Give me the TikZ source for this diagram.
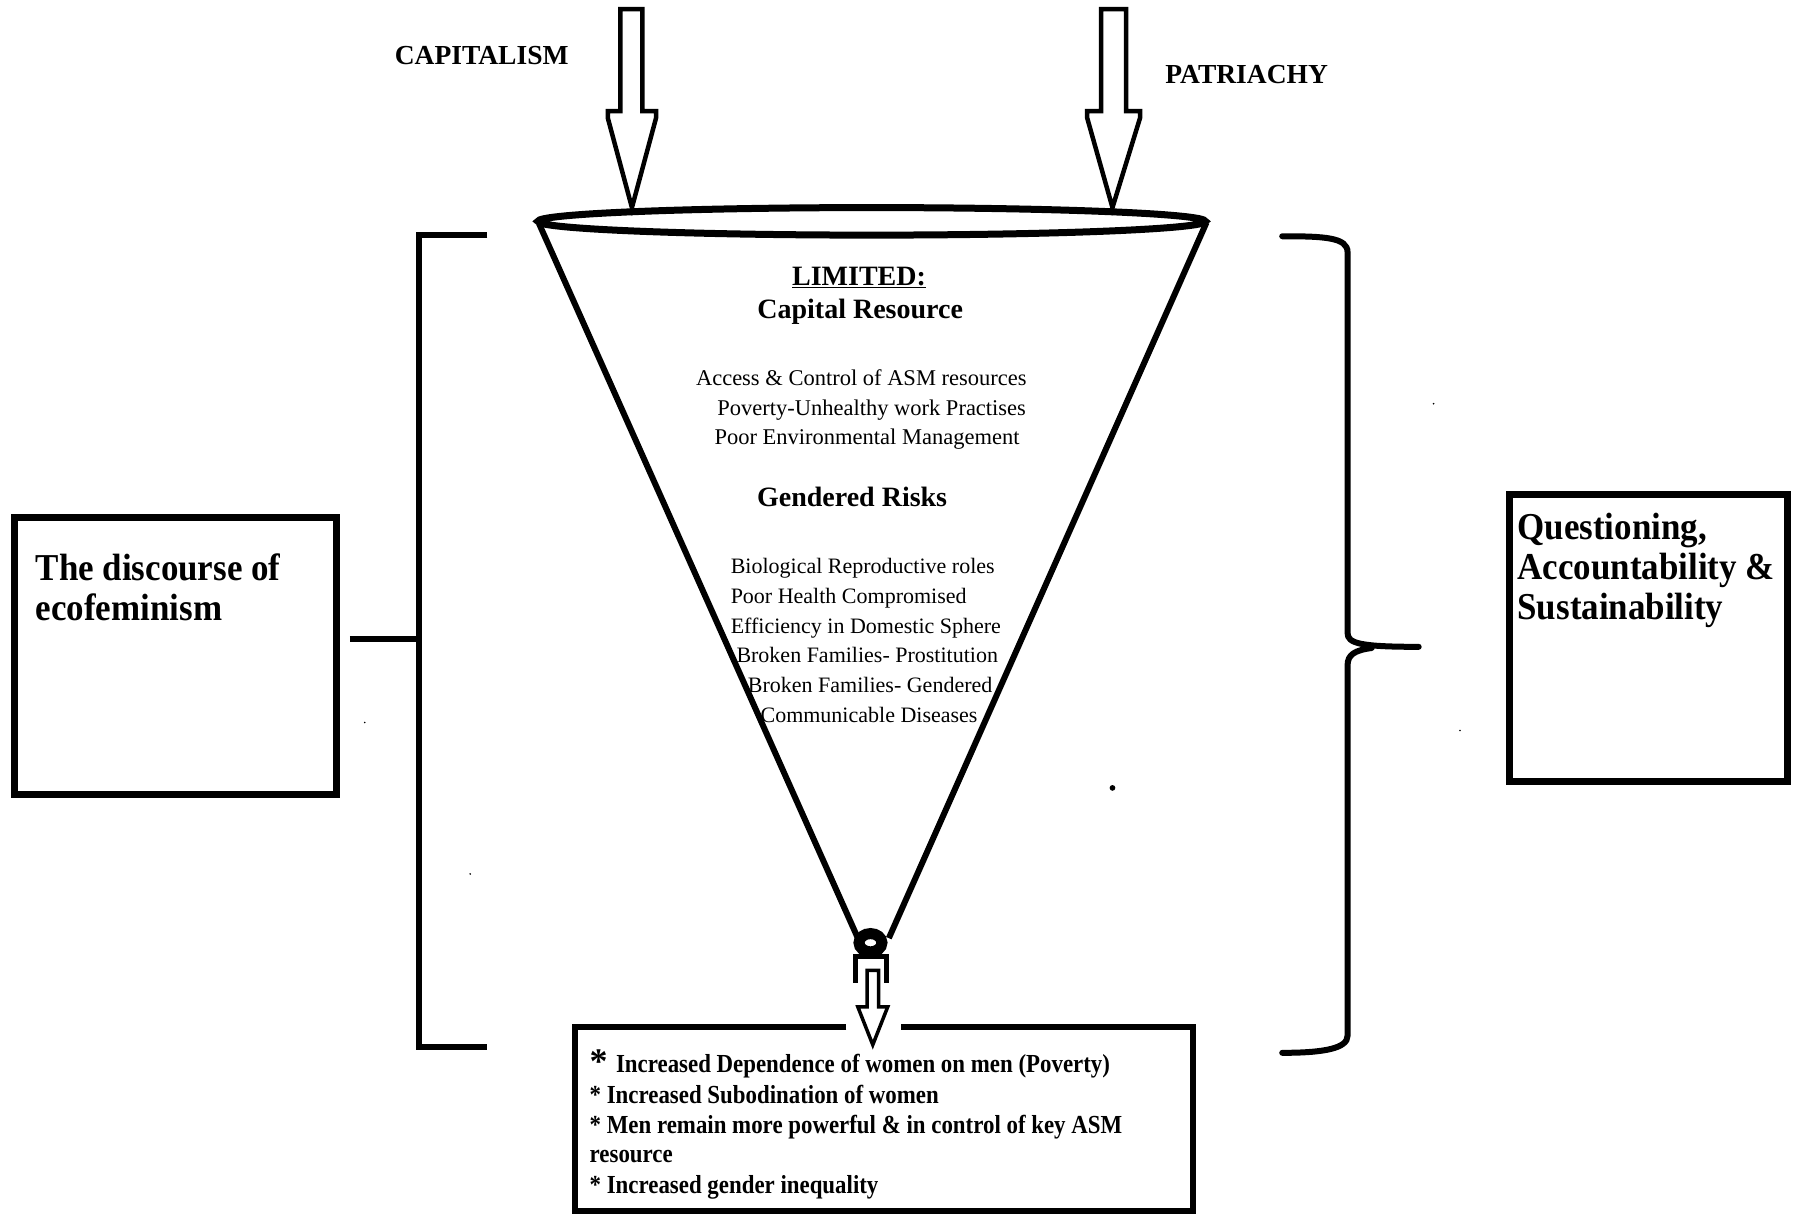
\documentclass[tikz,border=0pt]{standalone}
\usepackage{fontspec}
\setmainfont{Liberation Serif}
\newfontfamily\narrowfont[FakeStretch=0.88]{Liberation Serif}
\newfontfamily\boxfont[FakeStretch=0.92]{Liberation Serif}
\usetikzlibrary{positioning}

\tikzset{
  rim/.style={line width=6pt},
  blockarrow/.style={line width=4.5pt, line join=miter, fill=white},
  bracket/.style={line width=6pt},
  frame/.style={line width=7pt},
  force/.style={font=\bfseries\fontsize{27.5}{30}\selectfont, anchor=base},
  heading/.style={font=\bfseries\fontsize{28}{30}\selectfont, anchor=base},
  risk/.style={font=\fontsize{22.5}{26}\selectfont, anchor=base},
  risklist/.style={font=\fontsize{22}{26}\selectfont, anchor=base west},
  sidetext/.style={font=\boxfont\bfseries\fontsize{38}{40}\selectfont, anchor=base west},
  effect/.style={font=\narrowfont\bfseries\fontsize{26}{30}\selectfont, anchor=base west}
}

\begin{document}
\begin{tikzpicture}[x=1.1469pt,y=-1.1469pt]
\tikzstyle{every node}+=[inner sep=0pt]
\useasboundingbox (0,0) rectangle (1566,1058.5);

% forces from above
\node[force] (capitalism) at (420,56.5) {CAPITALISM};
\node[force] (patriachy) at (1087,73) {PATRIACHY};
\coordinate (captip) at (551,181);
\coordinate (pattip) at (970,181);
\draw[blockarrow] (541,8) -- (560,8) -- (560,97) -- (572,97) -- (572,103) -- (captip) -- (530,103) -- (530,97) -- (541,97) -- cycle;
\draw[blockarrow] (960,8) -- (982,8) -- (982,97) -- (994,97) -- (994,103) -- (pattip) -- (948,103) -- (948,97) -- (960,97) -- cycle;

% funnel
\coordinate (rimleft) at (470,195);
\coordinate (rimright) at (1052,194);
\coordinate (neckleft) at (748,818);
\coordinate (neckright) at (775,818);
\draw[rim, line width=7pt] (760,193) ellipse [x radius=291, y radius=12];
\draw[rim] (rimleft) -- (neckleft);
\draw[rim] (rimright) -- (neckright);
\draw[line width=11pt] (759,822) ellipse [x radius=10, y radius=8];
\draw[line width=5pt] (746,857) -- (746,834) -- (773,834) -- (773,857);
\coordinate (outtip) at (761,911);
\draw[line width=3.5pt, fill=white] (756,846) -- (766,846) -- (766,878) -- (774,878) -- (outtip) -- (748,878) -- (756,878) -- cycle;

% text in the funnel
\node[heading] (limited) at (749,249) {\underline{LIMITED:}};
\node[heading] (capital) at (750,278) {Capital Resource};
\node[risk] (access) at (751,336) {Access \& Control of ASM resources};
\node[risk] (poverty) at (760,362) {Poverty-Unhealthy work Practises};
\node[risk] (environment) at (756,388) {Poor Environmental Management};
\node[heading] (gendered) at (743,442) {Gendered Risks};
\node[risklist] (biological) at (637,500) {Biological Reproductive roles};
\node[risklist] (health) at (637,526) {Poor Health Compromised};
\node[risklist] (efficiency) at (637,552) {Efficiency in Domestic Sphere};
\node[risklist] (prostitution) at (642,578) {Broken Families- Prostitution};
\node[risklist] (broken) at (652,604) {Broken Families- Gendered};
\node[risklist] (diseases) at (663,630) {Communicable Diseases};

% outcome box
\draw[frame, line width=6pt] (738,895.5) -- (501,895.5) -- (501,1056) -- (1040,1056) -- (1040,895.5) -- (786,895.5);
\node[effect, font=\bfseries\fontsize{36}{36}\selectfont] (star) at (514,936) {*};
\node[effect] (dependence) at (537,935) {Increased Dependence of women on men (Poverty)};
\node[effect] (subodination) at (514,962) {* Increased Subodination of women};
\node[effect] (powerful) at (514,988) {* Men remain more powerful \& in control of key ASM};
\node[effect] (resource) at (514,1014) {resource};
\node[effect] (inequality) at (514,1041) {* Increased gender inequality};

% left side
\draw[frame] (13,451) rectangle (293,693);
\node[sidetext] (discourse) at (31,506) {The discourse of};
\node[sidetext] (ecofeminism) at (31,541) {ecofeminism};
\draw[bracket] (425,205) -- (365,205) -- (365,913) -- (425,913);
\draw[bracket] (305,557) -- (365,557);

% right side
\draw[frame] (1316,431) rectangle (1559,681);
\node[sidetext] (questioning) at (1323,470) {Questioning,};
\node[sidetext] (accountability) at (1323,505) {Accountability \&};
\node[sidetext] (sustainability) at (1323,540) {Sustainability};
\draw[bracket, line cap=round] (1118,206) .. controls (1155,206) and (1175,207) .. (1175,220) -- (1175,552) .. controls (1175,561) and (1186,564) .. (1237,564);
\draw[bracket, line cap=round] (1196,565) .. controls (1181,567) and (1175,571) .. (1175,580) -- (1175,903) .. controls (1175,914) and (1155,918) .. (1118,918);

% specks
\fill (970,687) circle (2.5);
\fill (1250,352) circle (0.8);
\fill (318,630) circle (0.8);
\fill (410,762) circle (0.8);
\fill (1273,637) circle (0.8);
\end{tikzpicture}
\end{document}
